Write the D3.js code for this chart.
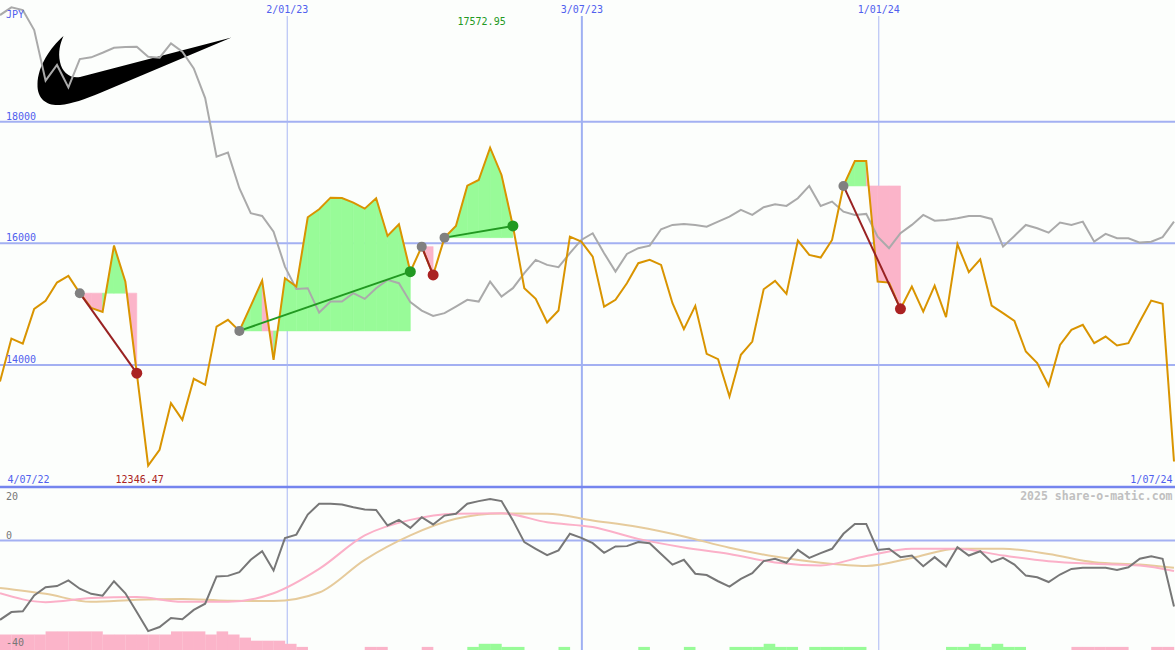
<!DOCTYPE html>
<html><head><meta charset="utf-8">
<script src="https://cdn.jsdelivr.net/npm/d3@7"></script>
<style>
body{margin:0;background:#fcfefc;}
svg{display:block;font-family:"DejaVu Sans Mono",monospace;}
</style>
</head><body><svg id="c" width="1175" height="650"></svg>
<script>
// ---- data (weekly closes, JPY) ----
const price = [13728,14435,14352,14923,15054,15355,15465,15181,14939,14873,
15963,15371,13866,12346.47,12606,13373,13099,13773,13674,14632,
14742,14561,14972,15388,14085,15427,15289,16429,16561,16751,
16745,16669,16571,16741,16122,16314,15535,15946,15481,16094,
16286,16948,17042,17572.95,17124,16286,15263,15087,14698,14895,
16111,16028,15782,14960,15071,15345,15674,15728,15646,15016,
14589,14972,14183,14096,13482,14167,14385,15246,15383,15169,
16045,15810,15766,16056,16944,17354,17354,15371,15355,14923,
15289,14878,15305,14786,15986,15526,15739,14977,14852,14725,
14221,14031,13658,14331,14578,14660,14359,14468,14320,14359,
14714,15059,15005,12414];
const compare = [19753,19880,19835,19507,18674,18932,18565,19030,19058,19134,
19216,19227,19232,19068,19052,19288,19150,18877,18389,17425,
17491,16906,16495,16451,16193,15618,15251,15263,14862,15043,
15043,15181,15087,15263,15399,15345,15033,14895,14808,14852,
14960,15071,15043,15371,15125,15263,15509,15728,15646,15608,
15838,16056,16166,15838,15535,15826,15920,15963,16232,16303,
16319,16303,16275,16357,16439,16549,16467,16594,16643,16615,
16741,16944,16615,16686,16521,16467,16484,16111,15920,16166,
16303,16467,16373,16385,16413,16451,16451,16401,15946,16122,
16303,16249,16176,16341,16303,16357,16028,16155,16084,16084,
16012,16028,16101,16357];
const momentum = [-29.6,-26.7,-26.4,-20.5,-17.4,-17.0,-14.9,-18.0,-19.9,-20.6,
-15.2,-19.7,-26.7,-33.8,-32.3,-28.9,-29.4,-25.9,-23.6,-13.4,
-13.2,-11.8,-7.2,-4.0,-11.2,0.9,2.2,9.7,13.7,13.7,
13.4,12.4,11.6,11.4,5.6,7.7,4.7,8.7,6.0,9.3,
10.0,13.7,14.7,15.5,14.7,7.5,-0.6,-3.1,-5.5,-3.7,
2.5,1.0,-1.0,-4.6,-2.2,-2.1,-0.6,-1.0,-5.0,-9.0,
-7.2,-12.4,-12.9,-15.2,-17.2,-14.3,-12.2,-7.7,-6.8,-8.3,
-3.5,-6.5,-4.7,-3.1,2.5,6.2,6.2,-3.5,-3.1,-6.2,
-5.6,-9.6,-6.2,-9.7,-2.5,-5.6,-4.0,-8.1,-6.5,-9.0,
-13.1,-13.7,-15.5,-12.7,-10.6,-10.2,-10.2,-10.2,-11.0,-10.0,
-6.8,-5.9,-6.8,-24.6];
const smoothIdx = [0,4,8,12,16,20,24,28,32,36,40,44,48,52,56,60,64,68,72,76,80,84,88,92,96,100,103];
const momFast = [-19.7,-23.0,-21.5,-21.1,-22.9,-22.9,-19.7,-10.6,1.9,7.7,10.0,10.2,6.8,5.0,0.6,-2.6,-5.0,-8.2,-9.3,-5.8,-3.1,-3.1,-5.6,-7.7,-8.7,-9.3,-11.4];
const momSlow = [-17.7,-19.9,-22.9,-22.1,-21.8,-22.5,-22.6,-19.4,-7.2,1.9,8.1,10.1,10.0,7.5,5.0,1.5,-2.7,-6.0,-8.3,-9.5,-6.5,-3.1,-3.1,-5.0,-8.1,-9.0,-10.2];
const signalBars = [-5,-5,-5,-5,-6,-6,-6,-6,-6,-5,
-5,-5,-5,-5,-5,-6,-6,-6,-5,-6,
-5,-4,-3,-3,-3,-2,-1,0,0,0,
0,0,-1,-1,0,0,0,-1,0,0,
0,1,2,2,1,1,0,0,0,1,
0,0,0,0,0,0,1,0,0,0,
1,0,0,0,1,1,1,2,1,1,
0,1,1,1,1,1,0,0,0,0,
0,0,0,1,1,2,1,2,1,1,
0,0,0,0,-1,-1,-1,-1,-1,0,
0,-1,-1,0];
const patternStart = [7,21,37,39,74];
const patternEnd   = [12,36,38,45,79];
const gridPos    = [25.2,51.05,77.1];
const gridLabels = ["2/01/23","3/07/23","1/01/24"];
const gridWide   = [false,true,false];
const yTicks = [18000,16000,14000];
const lowerTicks = [20,0,-40];
const startLabel = "4/07/22", endLabel = "1/07/24", unitLabel = "JPY";

// ---- scales ----
const W = 1175, H = 650;
const svg = d3.select("#c");
const x = d3.scaleLinear().domain([0, price.length - 1]).range([0, 1174]);
const y = d3.scaleLinear().domain([14000, 18000]).range([365, 121.7]);
const yL = d3.scaleLinear().domain([-40, 20]).range([647.7, 486.9]);
const barH = d3.scaleLinear().domain([0, 6]).range([0, 18.6]);

svg.append("rect").attr("width", W).attr("height", H).attr("fill", "#fcfefc");

// horizontal grid (main)
svg.selectAll(".hg").data(yTicks).enter().append("line")
  .attr("x1", 0).attr("x2", W).attr("y1", d => y(d)).attr("y2", d => y(d))
  .attr("stroke", "#a3b0f2").attr("stroke-width", 2);
// lower zero line
svg.append("line").attr("x1", 0).attr("x2", W).attr("y1", yL(0)).attr("y2", yL(0))
  .attr("stroke", "#a3b0f2").attr("stroke-width", 2);
// vertical grid
svg.selectAll(".vg").data(gridPos).enter().append("line")
  .attr("x1", d => x(d)).attr("x2", d => x(d)).attr("y1", 16).attr("y2", H)
  .attr("stroke", (d, i) => gridWide[i] ? "#9fb0f2" : "#aab7f4")
  .attr("stroke-width", (d, i) => gridWide[i] ? 2 : 1);

// logo (swoosh)
svg.append("path")
  .attr("d", "M231.5,37.5 L80,77 C70,79 62,72 60,62 C58,52 60,44 63.5,36 C50,48 38,66 37.5,84 C37,100 48,106 60,105 C72,104 85,99 100,93 Z")
  .attr("fill", "#000");

// pattern fills: one quad per segment, coloured by the segment end vs the start level
patternStart.forEach((s, k) => {
  const e = patternEnd[k];
  const base = price[s];
  const by = y(base);
  d3.range(s, e).forEach(i => {
    const q = [[x(i), by], [x(i), y(price[i])], [x(i + 1), y(price[i + 1])], [x(i + 1), by]];
    svg.append("path").attr("d", "M" + q.join("L") + "Z")
      .attr("fill", price[i + 1] >= base ? "#98fb98" : "#fbb4c9")
      .attr("stroke", price[i + 1] >= base ? "#98fb98" : "#fbb4c9").attr("stroke-width", 0.6);
  });
});

// comparison line
const line = d3.line().x((d, i) => x(i)).y(d => y(d));
svg.append("path").attr("d", line(compare)).attr("fill", "none")
  .attr("stroke", "#aaaaaa").attr("stroke-width", 2);
// price line
svg.append("path").attr("d", line(price)).attr("fill", "none")
  .attr("stroke", "#d99400").attr("stroke-width", 2);

// pattern connectors and dots
patternStart.forEach((s, k) => {
  const e = patternEnd[k];
  const up = price[e] > price[s];
  svg.append("line").attr("x1", x(s)).attr("y1", y(price[s])).attr("x2", x(e)).attr("y2", y(price[e]))
    .attr("stroke", up ? "#229922" : "#992222").attr("stroke-width", 2);
});
patternStart.forEach((s, k) => {
  const e = patternEnd[k];
  const up = price[e] > price[s];
  svg.append("circle").attr("cx", x(s)).attr("cy", y(price[s])).attr("r", 5).attr("fill", "#808080");
  svg.append("circle").attr("cx", x(e)).attr("cy", y(price[e])).attr("r", 5.5).attr("fill", up ? "#229922" : "#aa2222");
});

// separator between panels
svg.append("line").attr("x1", 0).attr("x2", W).attr("y1", 487).attr("y2", 487)
  .attr("stroke", "#7585ee").attr("stroke-width", 2.5);

// lower panel
const lower = svg.append("g");
signalBars.forEach((v, i) => {
  if (v === 0) return;
  const h = barH(Math.abs(v));
  lower.append("rect").attr("x", x(i)).attr("width", x(i + 1) - x(i) + 0.2)
    .attr("y", H - h).attr("height", h)
    .attr("fill", v > 0 ? "#98fb98" : "#fbb4c9");
});
const sline = d3.line().x((d, i) => x(smoothIdx[i])).y(d => yL(d)).curve(d3.curveMonotoneX);
lower.append("path").attr("d", sline(momSlow)).attr("fill", "none").attr("stroke", "#e6cb9c").attr("stroke-width", 2);
lower.append("path").attr("d", sline(momFast)).attr("fill", "none").attr("stroke", "#fbb0c8").attr("stroke-width", 2);
lower.append("path").attr("d", d3.line().x((d, i) => x(i)).y(d => yL(d))(momentum))
  .attr("fill", "none").attr("stroke", "#777777").attr("stroke-width", 2);

// ---- texts ----
const blue = "#5060ee";
svg.append("text").attr("x", 6).attr("y", 17.5).attr("font-size", 10).attr("fill", blue).text(unitLabel);
svg.selectAll(".yl").data(yTicks).enter().append("text")
  .attr("x", 6).attr("y", d => y(d) - 2).attr("font-size", 10).attr("fill", blue).text(d => d);
svg.selectAll(".dl").data(gridLabels).enter().append("text")
  .attr("x", (d, i) => x(gridPos[i])).attr("y", 12.5).attr("text-anchor", "middle")
  .attr("font-size", 10).attr("fill", blue).text(d => d);
svg.append("text").attr("x", 7.5).attr("y", 482.5).attr("font-size", 10).attr("fill", blue).text(startLabel);
svg.append("text").attr("x", 1172.5).attr("y", 482.5).attr("text-anchor", "end").attr("font-size", 10).attr("fill", blue).text(endLabel);

const iMax = d3.maxIndex(price), iMin = d3.minIndex(price);
svg.append("text").attr("x", x(iMax) - 8.5).attr("y", 24.5).attr("text-anchor", "middle")
  .attr("font-size", 10).attr("fill", "#229922").text(d3.format(".2f")(price[iMax]));
svg.append("text").attr("x", x(iMin) - 8.5).attr("y", 482.5).attr("text-anchor", "middle")
  .attr("font-size", 10).attr("fill", "#aa2222").text(d3.format(".2f")(price[iMin]));

svg.selectAll(".ll").data(lowerTicks).enter().append("text")
  .attr("x", 6).attr("y", d => d === 20 ? yL(d) + 12.7 : yL(d) - 2)
  .attr("font-size", 10).attr("fill", "#777777").text(d => d);
svg.append("text").attr("x", 1172.5).attr("y", 500).attr("text-anchor", "end")
  .attr("font-size", 11.5).attr("font-weight", "bold").attr("fill", "#c0c0c0").text("2025 share-o-matic.com");
</script>
</body></html>
